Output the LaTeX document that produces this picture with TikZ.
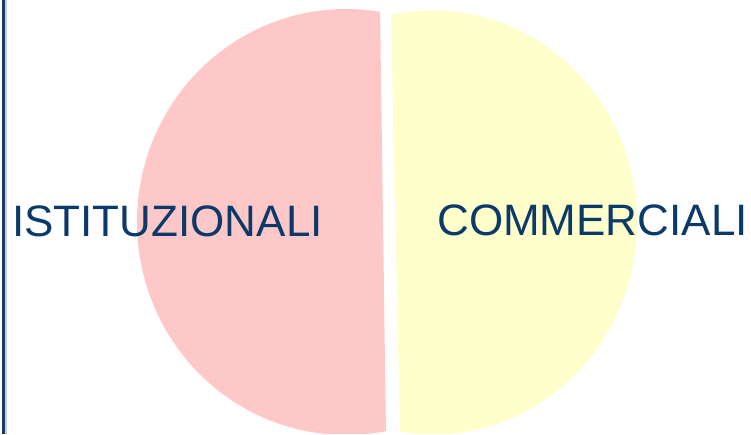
\documentclass[tikz,border=0pt]{standalone}
\usepackage{fontspec}
\setmainfont{Liberation Sans}
\usepackage{xcolor}
\definecolor{slicepink}{HTML}{FFC8C8}
\definecolor{sliceyellow}{HTML}{FFFFCC}
\definecolor{labelblue}{HTML}{0B3A6A}
\definecolor{barblue}{HTML}{1B3A66}
\begin{document}
\begin{tikzpicture}[x=1pt,y=1pt]
\tikzset{slicelabel/.style={inner sep=0pt,anchor=base,text=labelblue,font=\fontsize{44}{50}\selectfont}}
\useasboundingbox (0,0) rectangle (751,434);
% left bar
\coordinate (bartop) at (3,434);
\coordinate (barbot) at (3,0);
\draw [barblue,line width=3pt] (bartop) -- (barbot);
\draw [barblue!25,line width=1.5pt] ([xshift=3pt]bartop) -- ([xshift=3pt]barbot);
% cut lines of the two slices
\coordinate (pinktop) at (379.9,434);
\coordinate (pinkbot) at (386,0);
\coordinate (yellowtop) at (390.7,434);
\coordinate (yellowbot) at (400,0);
% left slice
\begin{scope}
\clip (0,0) -- (pinkbot) -- (pinktop) -- (0,434) -- cycle;
\fill [slicepink] (346,212) ellipse [x radius=209,y radius=213];
\end{scope}
% right slice
\begin{scope}
\clip (yellowbot) -- (751,0) -- (751,434) -- (yellowtop) -- cycle;
\fill [sliceyellow] (433,211.5) ellipse [x radius=204,y radius=212];
\end{scope}
% labels
\node [slicelabel] (ist) at (167.5,197) {ISTITUZIONALI};
\node [slicelabel] (com) at (592.5,199) {COMMERCIALI};
\end{tikzpicture}
\end{document}
